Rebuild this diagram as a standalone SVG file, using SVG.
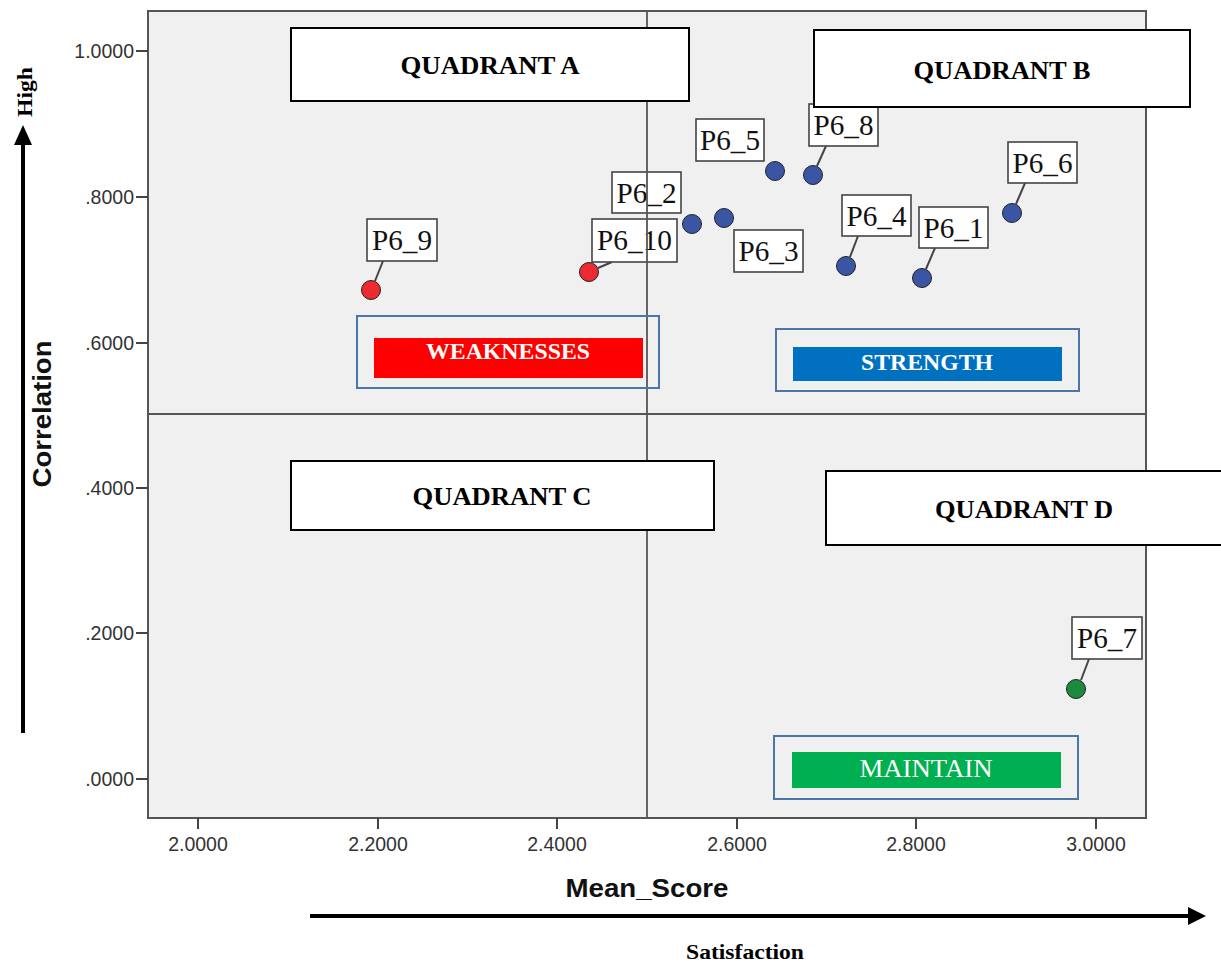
<svg xmlns="http://www.w3.org/2000/svg" width="1221" height="965" viewBox="0 0 1221 965">
<style>
.tick{font-family:"Liberation Sans",Arial,sans-serif;font-size:19.5px;fill:#333}
.axt{font-family:"Liberation Sans",Arial,sans-serif;font-size:26px;font-weight:bold;fill:#111}
.ser{font-family:"Liberation Serif","Times New Roman",serif;fill:#000}
.quad rect{fill:#fff;stroke:#000;stroke-width:2}
.quad text{font-family:"Liberation Serif","Times New Roman",serif;font-size:25px;font-weight:bold;fill:#000;text-anchor:middle}
.lbl rect{fill:#fff;stroke:#444;stroke-width:1.6}
.lbl text{font-family:"Liberation Serif","Times New Roman",serif;font-size:29px;fill:#111;text-anchor:middle}
.leg .outer{fill:none;stroke:#4a76a8;stroke-width:2}
.leg text{font-family:"Liberation Serif","Times New Roman",serif;fill:#fff;text-anchor:middle}
.dot{stroke:#222;stroke-width:1}
.blue{fill:#3b55a5}.red{fill:#ec2a30}.green{fill:#1b8a3c}
.lead{stroke:#444;stroke-width:2}
</style>
<rect x="0" y="0" width="1221" height="965" fill="#fff"/>
<g id="plot">
<rect x="148" y="11" width="998" height="807" fill="#f0f0f0" stroke="#555" stroke-width="2"/>
<g stroke="#444" stroke-width="2">
<line x1="136" y1="51" x2="148" y2="51"/><line x1="136" y1="197" x2="148" y2="197"/><line x1="136" y1="343" x2="148" y2="343"/><line x1="136" y1="488" x2="148" y2="488"/><line x1="136" y1="633" x2="148" y2="633"/><line x1="136" y1="779" x2="148" y2="779"/>
<line x1="198" y1="818" x2="198" y2="829"/><line x1="378" y1="818" x2="378" y2="829"/><line x1="557" y1="818" x2="557" y2="829"/><line x1="737" y1="818" x2="737" y2="829"/><line x1="916" y1="818" x2="916" y2="829"/><line x1="1096" y1="818" x2="1096" y2="829"/>
</g>
<g class="tick" text-anchor="end">
<text x="134" y="58">1.0000</text><text x="134" y="204">.8000</text><text x="134" y="350">.6000</text><text x="134" y="495">.4000</text><text x="134" y="640">.2000</text><text x="134" y="786">.0000</text>
</g>
<g class="tick" text-anchor="middle">
<text x="198" y="851">2.0000</text><text x="378" y="851">2.2000</text><text x="557" y="851">2.4000</text><text x="737" y="851">2.6000</text><text x="916" y="851">2.8000</text><text x="1096" y="851">3.0000</text>
</g>
<text class="axt" x="647" y="897" text-anchor="middle" textLength="163" lengthAdjust="spacingAndGlyphs">Mean_Score</text>
<text class="axt" transform="translate(51,414) rotate(-90)" text-anchor="middle" textLength="147" lengthAdjust="spacingAndGlyphs">Correlation</text>
</g>
<g id="connectors">
<line x1="23" y1="733" x2="23" y2="143" stroke="#000" stroke-width="4"/>
<polygon points="14,145 32,145 23,125" fill="#000"/>
<line x1="310" y1="916" x2="1190" y2="916" stroke="#000" stroke-width="4"/>
<polygon points="1188,907 1188,925 1206,916" fill="#000"/>
<line class="lead" x1="383" y1="261" x2="375" y2="281"/>
<line class="lead" x1="612" y1="262" x2="598" y2="268"/>
<line class="lead" x1="826" y1="146" x2="817" y2="166"/>
<line class="lead" x1="858" y1="236" x2="850" y2="257"/>
<line class="lead" x1="935" y1="248" x2="926" y2="269"/>
<line class="lead" x1="1025" y1="183" x2="1016" y2="204"/>
<line class="lead" x1="1089" y1="659" x2="1081" y2="680"/>
</g>
<text class="ser" transform="translate(32,92) rotate(-90)" font-size="22" font-weight="bold" text-anchor="middle" textLength="50" lengthAdjust="spacingAndGlyphs">High</text>
<text class="ser" x="745" y="959" font-size="21" font-weight="bold" text-anchor="middle" textLength="118" lengthAdjust="spacingAndGlyphs">Satisfaction</text>
<g id="labels" class="lbl">
<g id="lbl-P6_9"><rect x="367" y="219" width="70" height="42"/><text x="402" y="250" textLength="60" lengthAdjust="spacingAndGlyphs">P6_9</text></g>
<g id="lbl-P6_10"><rect x="592" y="219" width="85" height="43"/><text x="634.5" y="250" textLength="75" lengthAdjust="spacingAndGlyphs">P6_10</text></g>
<g id="lbl-P6_2"><rect x="612" y="172" width="69" height="41"/><text x="646.5" y="203" textLength="60" lengthAdjust="spacingAndGlyphs">P6_2</text></g>
<g id="lbl-P6_5"><rect x="696" y="119" width="68" height="42"/><text x="730" y="150" textLength="60" lengthAdjust="spacingAndGlyphs">P6_5</text></g>
<g id="lbl-P6_8"><rect x="809" y="104" width="69" height="42"/><text x="843.5" y="135" textLength="60" lengthAdjust="spacingAndGlyphs">P6_8</text></g>
<g id="lbl-P6_3"><rect x="734" y="230" width="69" height="42"/><text x="768.5" y="261" textLength="60" lengthAdjust="spacingAndGlyphs">P6_3</text></g>
<g id="lbl-P6_4"><rect x="842" y="195" width="69" height="41"/><text x="876.5" y="226" textLength="60" lengthAdjust="spacingAndGlyphs">P6_4</text></g>
<g id="lbl-P6_1"><rect x="919" y="207" width="69" height="41"/><text x="953.5" y="238" textLength="60" lengthAdjust="spacingAndGlyphs">P6_1</text></g>
<g id="lbl-P6_6"><rect x="1008" y="142" width="69" height="41"/><text x="1042.5" y="173" textLength="60" lengthAdjust="spacingAndGlyphs">P6_6</text></g>
<g id="lbl-P6_7"><rect x="1072" y="617" width="70" height="42"/><text x="1107" y="648" textLength="60" lengthAdjust="spacingAndGlyphs">P6_7</text></g>
</g>
<g id="points">
<circle id="P6_9" class="dot red" cx="371" cy="290" r="9.5"/>
<circle id="P6_10" class="dot red" cx="589" cy="272" r="9.5"/>
<circle id="P6_2" class="dot blue" cx="692" cy="224" r="9.5"/>
<circle id="P6_3" class="dot blue" cx="724" cy="218" r="9.5"/>
<circle id="P6_5" class="dot blue" cx="775" cy="171" r="9.5"/>
<circle id="P6_8" class="dot blue" cx="813" cy="175" r="9.5"/>
<circle id="P6_4" class="dot blue" cx="846" cy="266" r="9.5"/>
<circle id="P6_1" class="dot blue" cx="922" cy="278" r="9.5"/>
<circle id="P6_6" class="dot blue" cx="1012" cy="213" r="9.5"/>
<circle id="P6_7" class="dot green" cx="1076" cy="689" r="9.5"/>
</g>
<g id="dividers" stroke="#555" stroke-width="1.8">
<line x1="647" y1="11" x2="647" y2="818"/>
<line x1="148" y1="414" x2="1146" y2="414"/>
</g>
<g id="legend" class="leg">
<g id="weaknesses"><rect class="outer" x="357" y="316" width="302" height="72"/><rect x="374" y="338" width="269" height="40" fill="#ff0000"/><text x="508" y="359" font-size="24" font-weight="bold" textLength="164" lengthAdjust="spacingAndGlyphs">WEAKNESSES</text></g>
<g id="strength"><rect class="outer" x="776" y="329" width="303" height="62"/><rect x="793" y="347" width="269" height="34" fill="#0070c0"/><text x="927" y="370" font-size="24" font-weight="bold" textLength="132" lengthAdjust="spacingAndGlyphs">STRENGTH</text></g>
<g id="maintain"><rect class="outer" x="774" y="736" width="304" height="63"/><rect x="792" y="752" width="269" height="36" fill="#00b050"/><text x="926" y="777" font-size="26" textLength="133" lengthAdjust="spacingAndGlyphs">MAINTAIN</text></g>
</g>
<g id="quadrants" class="quad">
<g id="quadA"><rect x="291" y="28" width="398" height="73"/><text x="490" y="74" textLength="179" lengthAdjust="spacingAndGlyphs">QUADRANT A</text></g>
<g id="quadB"><rect x="814" y="30" width="376" height="77"/><text x="1002" y="79" textLength="177" lengthAdjust="spacingAndGlyphs">QUADRANT B</text></g>
<g id="quadC"><rect x="291" y="461" width="423" height="69"/><text x="502" y="505" textLength="179" lengthAdjust="spacingAndGlyphs">QUADRANT C</text></g>
<g id="quadD"><rect x="826" y="471" width="400" height="74"/><text x="1024" y="518" textLength="178" lengthAdjust="spacingAndGlyphs">QUADRANT D</text></g>
</g>
</svg>
